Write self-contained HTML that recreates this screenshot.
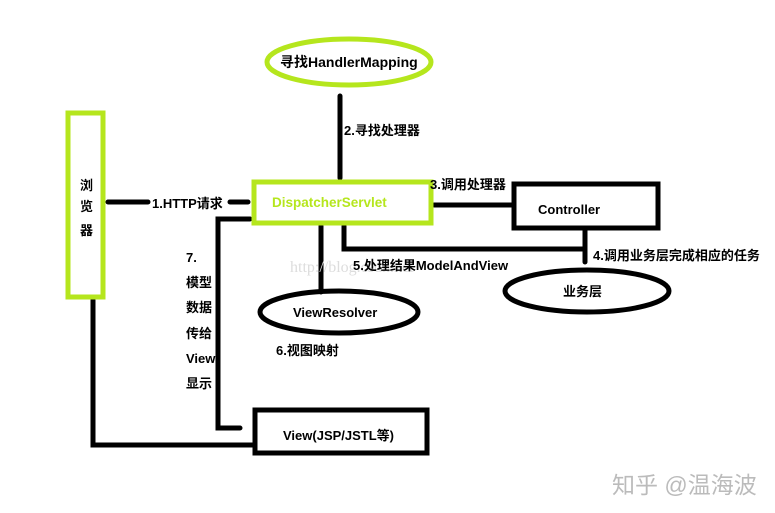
<!DOCTYPE html>
<html><head><meta charset="utf-8"><style>
html,body{margin:0;padding:0;background:#fff;}
svg{display:block;}
text{font-family:"Liberation Sans","Noto Sans CJK SC",sans-serif;font-weight:bold;font-size:13px;fill:#000;}
</style></head><body>
<svg width="775" height="513" viewBox="0 0 775 513" xmlns="http://www.w3.org/2000/svg">
<g fill="none" stroke="#000" stroke-width="5" stroke-linecap="round">
<line x1="340" y1="96" x2="340" y2="178"/>
<line x1="108" y1="202" x2="148" y2="202"/>
<line x1="230" y1="202" x2="248" y2="202"/>
<line x1="434" y1="205" x2="514" y2="205"/>
<line x1="585" y1="229" x2="585" y2="262"/>
<polyline points="344,226 344,249 585,249"/>
<line x1="321" y1="226" x2="321" y2="292"/>
<polyline points="250,219 218,219 218,428 240,428"/>
<polyline points="93,300 93,445 255,445"/>
<rect x="514" y="184" width="144" height="44"/>
<rect x="255" y="410" width="172" height="43"/>
<ellipse cx="339" cy="312" rx="79" ry="21"/>
<ellipse cx="587" cy="291" rx="82" ry="21"/>
</g>
<g fill="none" stroke="#b5e61d" stroke-width="5">
<ellipse cx="349" cy="62" rx="82" ry="23"/>
<rect x="68" y="113" width="35" height="184"/>
<rect x="254" y="182" width="177" height="41"/>
</g>
<text x="280" y="67" style="font-size:14px">寻找HandlerMapping</text>
<text x="344" y="135">2.寻找处理器</text>
<text x="80" y="190">浏</text>
<text x="80" y="211">览</text>
<text x="80" y="235">器</text>
<text x="152" y="208">1.HTTP请求</text>
<text x="272" y="207" style="fill:#b5e61d;font-size:13.5px">DispatcherServlet</text>
<text x="430" y="189">3.调用处理器</text>
<text x="538" y="214">Controller</text>
<text x="593" y="260">4.调用业务层完成相应的任务</text>
<text x="290" y="272" style="fill:#ddd;font-weight:normal;font-family:'Liberation Serif',serif;font-size:16px">http://blog.csdn.net</text>
<text x="353" y="270">5.处理结果ModelAndView</text>
<text x="563" y="296">业务层</text>
<text x="293" y="317">ViewResolver</text>
<text x="276" y="355">6.视图映射</text>
<text x="186" y="262">7.</text>
<text x="186" y="287">模型</text>
<text x="186" y="312">数据</text>
<text x="186" y="338">传给</text>
<text x="186" y="363">View</text>
<text x="186" y="388">显示</text>
<text x="283" y="440">View(JSP/JSTL等)</text>
<text x="612" y="493" style="fill:#bbb;font-weight:normal;font-size:23px">知乎 @温海波</text>
</svg>
</body></html>
